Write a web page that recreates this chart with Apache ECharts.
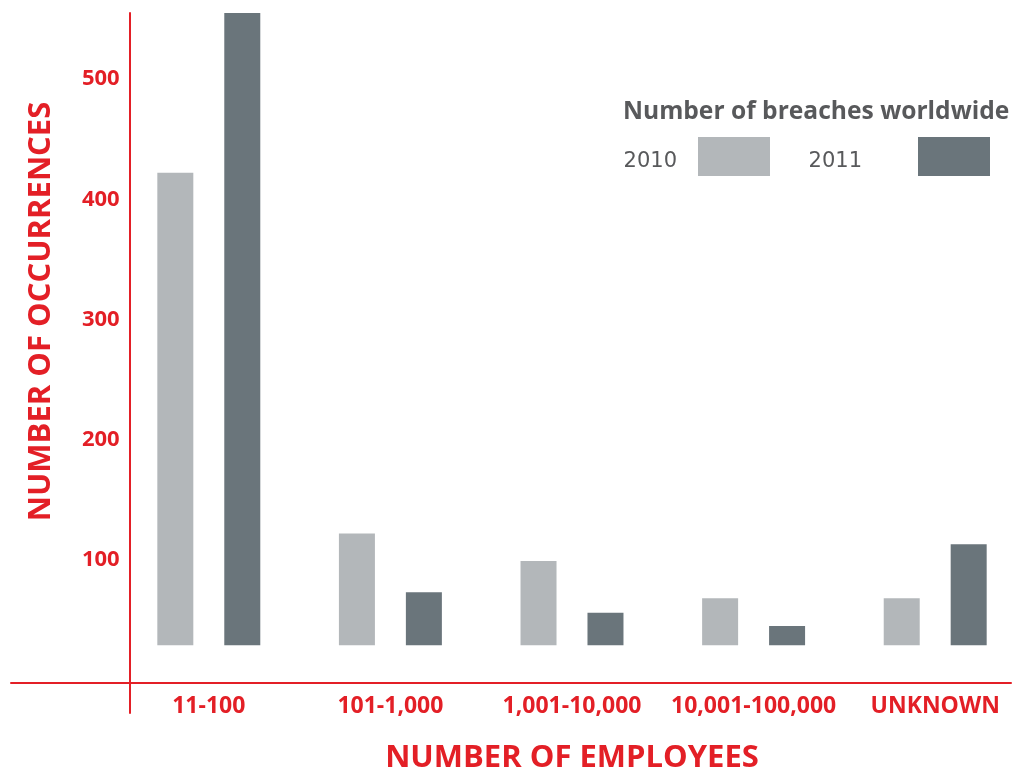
<!DOCTYPE html>
<html>
<head>
<meta charset="utf-8">
<script src="https://cdn.jsdelivr.net/npm/echarts@6/dist/echarts.min.js"></script>
<style>
  html, body { margin: 0; padding: 0; background: #fff; }
  #chart { width: 1026px; height: 767px; }
</style>
</head>
<body>
<div id="chart"></div>
<script>
// ---- data ----
const categories = ['11-100', '101-1,000', '1,001-10,000', '10,001-100,000', 'UNKNOWN'];
const breaches2010 = [422, 122, 99, 68, 68];
const breaches2011 = [555, 73, 56, 45, 113];
const barBaseValue = 29;          // value where the bars start
const yTickValues = [100, 200, 300, 400, 500];
const legendTitle = 'Number of breaches worldwide';
const xAxisTitle = 'NUMBER OF EMPLOYEES';
const yAxisTitle = 'NUMBER OF OCCURRENCES';

// ---- styles ----
const RED = '#e31f26';
const GRAY_TEXT = '#58595b';
const C2010 = '#b3b7ba';
const C2011 = '#6a757b';
const FONT = '"Open Sans", "Liberation Sans", sans-serif';
const LEGEND_FONT = '"DejaVu Sans", sans-serif';

const chart = echarts.init(document.getElementById('chart'));

const yMax = 555;

function legendText(rightPad) {
  return {
    color: GRAY_TEXT, fontFamily: LEGEND_FONT, fontSize: 21,
    rich: { t: { color: GRAY_TEXT, fontFamily: LEGEND_FONT, fontSize: 21, padding: [10, rightPad, 0, 0] } }
  };
}

const option = {
  animation: false,
  backgroundColor: '#ffffff',
  title: {
    text: legendTitle,
    left: 623,
    top: 99,
    padding: 0,
    textStyle: { color: GRAY_TEXT, fontFamily: FONT, fontWeight: 'bold', fontSize: 24.6 }
  },
  legend: [
    {
      data: ['2010'], right: 256, top: 137, padding: 0,
      itemWidth: 72, itemHeight: 39, align: 'right', icon: 'rect',
      selectedMode: false,
      formatter: name => '{t|' + name + '}',
      textStyle: legendText(16)
    },
    {
      data: ['2011'], right: 36, top: 137, padding: 0,
      itemWidth: 72, itemHeight: 39, align: 'right', icon: 'rect',
      selectedMode: false,
      formatter: name => '{t|' + name + '}',
      textStyle: legendText(51)
    }
  ],
  grid: [
    // bars: value 0 sits at y = 680
    { left: 118, right: 0, top: 13, bottom: 87, containLabel: false, outerBoundsMode: 'none' },
    // decorative crossing axis lines
    { left: 11, right: 15, top: 13, bottom: 54, containLabel: false, outerBoundsMode: 'none' }
  ],
  xAxis: [
    {
      type: 'category', gridIndex: 0, data: categories,
      axisLine: { show: false },
      axisTick: { show: false },
      axisLabel: { color: RED, fontFamily: FONT, fontWeight: 'bold', fontSize: 23, margin: 15, interval: 0 },
      name: xAxisTitle, nameLocation: 'middle', nameGap: 63,
      nameTextStyle: { color: RED, fontFamily: FONT, fontWeight: 'bold', fontSize: 31 }
    },
    {
      type: 'value', gridIndex: 1, min: 0, max: 1, offset: -30,
      axisLine: { show: true, onZero: false, lineStyle: { color: RED, width: 2 } },
      axisTick: { show: false }, axisLabel: { show: false }, splitLine: { show: false }
    }
  ],
  yAxis: [
    {
      type: 'value', gridIndex: 0, min: 0, max: yMax,
      offset: -11.7,
      axisLine: { show: false },
      axisTick: { show: false },
      splitLine: { show: false },
      axisLabel: {
        customValues: yTickValues,
        color: RED, fontFamily: FONT, fontWeight: 'bold', fontSize: 22, margin: 10
      },
      name: yAxisTitle, nameLocation: 'middle', nameGap: 73,
      nameTextStyle: { color: RED, fontFamily: FONT, fontWeight: 'bold', fontSize: 31, padding: [0, 0, 0, 70] }
    },
    {
      type: 'value', gridIndex: 1, min: 0, max: 1, offset: -118.7,
      axisLine: { show: true, onZero: false, lineStyle: { color: RED, width: 2 } },
      axisTick: { show: false }, axisLabel: { show: false }, splitLine: { show: false }
    }
  ],
  series: [
    {
      name: '2010 base', type: 'bar', stack: 'y2010', xAxisIndex: 0, yAxisIndex: 0,
      data: categories.map(() => barBaseValue),
      itemStyle: { color: 'rgba(0,0,0,0)' }, silent: true, barWidth: 36
    },
    {
      name: '2010', type: 'bar', stack: 'y2010', xAxisIndex: 0, yAxisIndex: 0,
      data: breaches2010.map(v => v - barBaseValue),
      itemStyle: { color: C2010 }, barWidth: 36, clip: false
    },
    {
      name: '2011 base', type: 'bar', stack: 'y2011', xAxisIndex: 0, yAxisIndex: 0,
      data: categories.map(() => barBaseValue),
      itemStyle: { color: 'rgba(0,0,0,0)' }, silent: true, barWidth: 36
    },
    {
      name: '2011', type: 'bar', stack: 'y2011', xAxisIndex: 0, yAxisIndex: 0,
      data: breaches2011.map(v => v - barBaseValue),
      itemStyle: { color: C2011 }, barWidth: 36, barGap: '86%', clip: false
    }
  ]
};

chart.setOption(option);
</script>
</body>
</html>
